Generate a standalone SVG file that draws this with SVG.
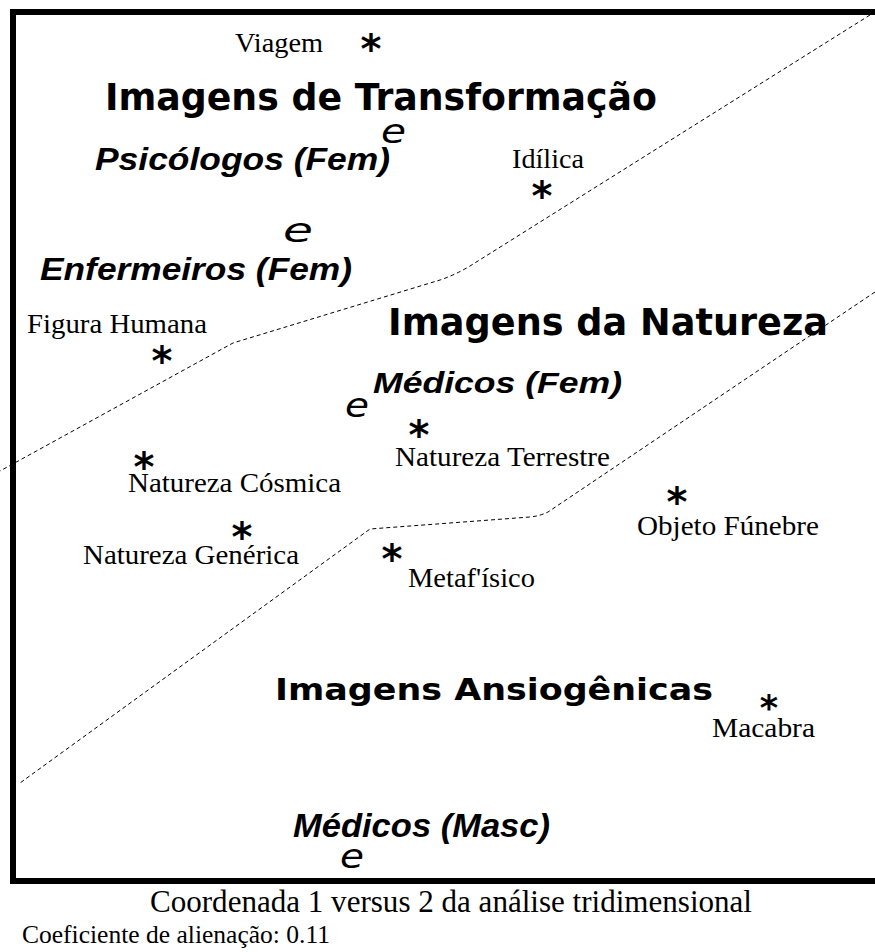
<svg xmlns="http://www.w3.org/2000/svg" width="875" height="952" viewBox="0 0 875 952">
<style>
.frame{fill:none;stroke:#000;stroke-width:6}
.div{fill:none;stroke:#000;stroke-width:1;stroke-dasharray:4 3}
.lbl{font-family:"Liberation Serif","Times New Roman",serif;font-size:28px;fill:#000}
.head{font-family:"Comic Sans MS","DejaVu Sans",sans-serif;font-weight:bold;font-size:38px;fill:#000}
.grp{font-family:"Liberation Sans",Arial,sans-serif;font-weight:bold;font-style:italic;font-size:32px;fill:#000}
.e{font-family:"DejaVu Sans",sans-serif;font-style:italic;font-size:34px;fill:#000}
.ast{font-family:"DejaVu Sans",sans-serif;font-weight:bold;font-size:40px;text-anchor:middle;fill:#000}
.cap{font-family:"Liberation Serif","Times New Roman",serif;font-size:31px;fill:#000}
</style>
<rect width="875" height="952" fill="#fff"/>
<rect class="frame" x="13" y="12" width="875" height="869"/>
<g id="connectors">
<path class="div" d="M870,15 L470,266 Q455,275 440,280 L233,343 L0,471"/>
<path class="div" d="M875,292 L548,512 Q540,516 530,517 L370,529 L20,783"/>
</g>
<g id="viagem"><text class="ast" x="371" y="63">*</text><text class="lbl" x="235" y="52" textLength="88" lengthAdjust="spacingAndGlyphs">Viagem</text></g>
<g id="idilica"><text class="ast" x="542" y="210">*</text><text class="lbl" x="512" y="168" textLength="72" lengthAdjust="spacingAndGlyphs">Idílica</text></g>
<g id="figura-humana"><text class="ast" x="162" y="375">*</text><text class="lbl" x="27" y="333" textLength="180" lengthAdjust="spacingAndGlyphs">Figura Humana</text></g>
<g id="natureza-cosmica"><text class="ast" x="144" y="481">*</text><text class="lbl" x="128" y="492" textLength="213" lengthAdjust="spacingAndGlyphs">Natureza Cósmica</text></g>
<g id="natureza-generica"><text class="ast" x="242" y="551">*</text><text class="lbl" x="83" y="564" textLength="216" lengthAdjust="spacingAndGlyphs">Natureza Genérica</text></g>
<g id="natureza-terrestre"><text class="ast" x="419" y="449">*</text><text class="lbl" x="395" y="466" textLength="215" lengthAdjust="spacingAndGlyphs">Natureza Terrestre</text></g>
<g id="metafisico"><text class="ast" x="392" y="573">*</text><text class="lbl" x="408" y="587" textLength="127" lengthAdjust="spacingAndGlyphs">Metaf'ísico</text></g>
<g id="objeto-funebre"><text class="ast" x="677" y="516">*</text><text class="lbl" x="637" y="535" textLength="182" lengthAdjust="spacingAndGlyphs">Objeto Fúnebre</text></g>
<g id="macabra"><text class="ast" x="769" y="720" style="font-size:35px">*</text><text class="lbl" x="712" y="737" textLength="103" lengthAdjust="spacingAndGlyphs">Macabra</text></g>
<g id="img-transformacao"><text class="head" x="105" y="110" textLength="552" lengthAdjust="spacingAndGlyphs">Imagens de Transformação</text></g>
<g id="img-natureza"><text class="head" x="388" y="335" textLength="440" lengthAdjust="spacingAndGlyphs">Imagens da Natureza</text></g>
<g id="img-ansiogenicas"><text class="head" x="275" y="700" style="font-size:30px" textLength="438" lengthAdjust="spacingAndGlyphs">Imagens Ansiogênicas</text></g>
<g id="psicologos-fem"><text class="e" x="381" y="143" textLength="25" lengthAdjust="spacingAndGlyphs">e</text><text class="grp" x="95" y="170" textLength="295" lengthAdjust="spacingAndGlyphs">Psicólogos (Fem)</text></g>
<g id="enfermeiros-fem"><text class="e" x="283" y="242" textLength="30" lengthAdjust="spacingAndGlyphs">e</text><text class="grp" x="40" y="280" textLength="312" lengthAdjust="spacingAndGlyphs">Enfermeiros (Fem)</text></g>
<g id="medicos-fem"><text class="e" x="345" y="417" textLength="24" lengthAdjust="spacingAndGlyphs">e</text><text class="grp" x="373" y="393" style="font-size:30px" textLength="249" lengthAdjust="spacingAndGlyphs">Médicos (Fem)</text></g>
<g id="medicos-masc"><text class="e" x="340" y="868" textLength="24" lengthAdjust="spacingAndGlyphs">e</text><text class="grp" x="293" y="837" style="font-size:33px" textLength="257" lengthAdjust="spacingAndGlyphs">Médicos (Masc)</text></g>
<g id="captions">
<text class="cap" x="150" y="912" textLength="602" lengthAdjust="spacingAndGlyphs">Coordenada 1 versus 2 da análise tridimensional</text>
<text class="lbl" x="22" y="943" style="font-size:26px" textLength="308" lengthAdjust="spacingAndGlyphs">Coeficiente de alienação: 0.11</text>
</g>
</svg>
